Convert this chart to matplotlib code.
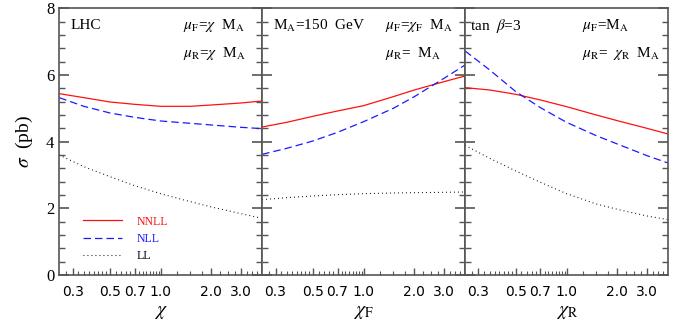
import numpy as np
import matplotlib
matplotlib.use('Agg')
import matplotlib.pyplot as plt

plt.rcParams['font.family'] = ['Liberation Serif', 'DejaVu Serif']
plt.rcParams['mathtext.fontset'] = 'stix'

# scale factor grid (same for all three panels)
chi = [0.25, 0.35, 0.5, 0.7, 1.0, 1.5, 2.0, 3.0, 4.0]

# panel 1: mu_F = mu_R = chi M_A
nnll_1 = [5.44, 5.32, 5.19, 5.12, 5.06, 5.06, 5.10, 5.16, 5.22]
nll_1 = [5.32, 5.06, 4.86, 4.73, 4.62, 4.55, 4.50, 4.43, 4.39]
ll_1 = [3.60, 3.25, 2.95, 2.68, 2.44, 2.20, 2.04, 1.84, 1.70]

# panel 2: mu_F = chi_F M_A, mu_R = M_A
nnll_2 = [4.44, 4.58, 4.76, 4.92, 5.08, 5.35, 5.55, 5.80, 5.97]
nll_2 = [3.62, 3.80, 4.02, 4.28, 4.60, 5.00, 5.35, 5.90, 6.30]
ll_2 = [2.26, 2.32, 2.37, 2.41, 2.44, 2.46, 2.47, 2.48, 2.49]

# panel 3: mu_F = M_A, mu_R = chi_R M_A
nnll_3 = [5.62, 5.55, 5.42, 5.25, 5.05, 4.80, 4.63, 4.40, 4.23]
nll_3 = [6.72, 6.15, 5.50, 5.02, 4.58, 4.18, 3.93, 3.58, 3.36]
ll_3 = [3.89, 3.50, 3.12, 2.78, 2.44, 2.13, 1.97, 1.77, 1.66]

xlabels = [r'$\chi$', r'$\chi_{\rm F}$', r'$\chi_{\rm R}$']
left_notes = ['LHC', r'M$_{\rm A}$=150  GeV', r'tan  $\beta$=3']
muF_notes = [r'$\mu_{\rm F}$=$\chi$  M$_{\rm A}$', r'$\mu_{\rm F}$=$\chi_{\rm F}$  M$_{\rm A}$',
             r'$\mu_{\rm F}$=M$_{\rm A}$']
muR_notes = [r'$\mu_{\rm R}$=$\chi$  M$_{\rm A}$', r'$\mu_{\rm R}$=  M$_{\rm A}$',
             r'$\mu_{\rm R}$=  $\chi_{\rm R}$  M$_{\rm A}$']
muF_x = [0.608, 0.604, 0.574]

xticks = [0.3, 0.5, 0.7, 1.0, 2.0, 3.0]
xticklabels = ['0.3', '0.5', '0.7', '1.0', '2.0', '3.0']
xminor = list(np.arange(0.275, 0.5, 0.025)) + list(np.arange(0.54, 1.0, 0.04)) + \
    list(np.arange(1.25, 4.0, 0.25))

panels = [(nnll_1, nll_1, ll_1), (nnll_2, nll_2, ll_2), (nnll_3, nll_3, ll_3)]

fig, axes = plt.subplots(1, 3, sharey=True, figsize=(6.73, 3.27), dpi=100)
fig.subplots_adjust(left=0.088, right=0.9926, bottom=0.159, top=0.9746, wspace=0)

spine_c = '#555555'
for i, ax in enumerate(axes):
    nnll, nll, ll = panels[i]
    ax.plot(chi, nnll, color='#ff1010', lw=0.9, label='NNLL')
    ax.plot(chi, nll, color='#1a1aff', lw=0.9, linestyle=(0, (6, 3.2)), label='NLL')
    ax.plot(chi, ll, color='black', lw=0.8, linestyle=(0, (0.8, 2.8)), label='LL')

    ax.set_xscale('log')
    ax.set_xlim(0.25, 4.0)
    ax.set_ylim(0, 8)
    ax.set_xticks(xticks)
    ax.set_xticklabels(xticklabels, family=['DejaVu Sans'], fontsize=10)
    ax.set_xticks(xminor, minor=True)
    ax.xaxis.set_minor_formatter(matplotlib.ticker.NullFormatter())
    ax.set_yticks([0, 2, 4, 6, 8])
    ax.set_yticks(np.arange(0, 8.01, 0.4), minor=True)
    ax.tick_params(axis='y', which='both', direction='in', left=True, right=True,
                   color=spine_c, labelsize=12)
    ax.tick_params(axis='y', which='major', length=7, width=1.2)
    ax.tick_params(axis='y', which='minor', length=4, width=1.0)
    ax.tick_params(axis='x', which='both', direction='in', top=False, color=spine_c)
    ax.tick_params(axis='x', which='major', length=5, width=1.0, pad=7)
    ax.tick_params(axis='x', which='minor', length=3, width=0.8)
    for s in ax.spines.values():
        s.set_color(spine_c)
        s.set_linewidth(1.2)

    ax.set_xlabel(xlabels[i], fontsize=14, labelpad=4)
    ax.text(0.055 if i < 2 else 0.025, 0.934, left_notes[i], transform=ax.transAxes,
            fontsize=11, va='center', ha='left')
    ax.text(muF_x[i], 0.934, muF_notes[i], transform=ax.transAxes,
            fontsize=11, va='center', ha='left')
    ax.text(muF_x[i], 0.829, muR_notes[i], transform=ax.transAxes,
            fontsize=11, va='center', ha='left')

axes[0].set_ylabel(r'$\sigma$  (pb)', fontsize=14, labelpad=8)
axes[0].legend(loc='upper left', bbox_to_anchor=(0.09, 0.245), frameon=False,
               fontsize=8.5, handlelength=3.3, handletextpad=1.2, labelspacing=0.45,
               borderpad=0, labelcolor='linecolor')

fig.savefig('out.png', dpi=100)
